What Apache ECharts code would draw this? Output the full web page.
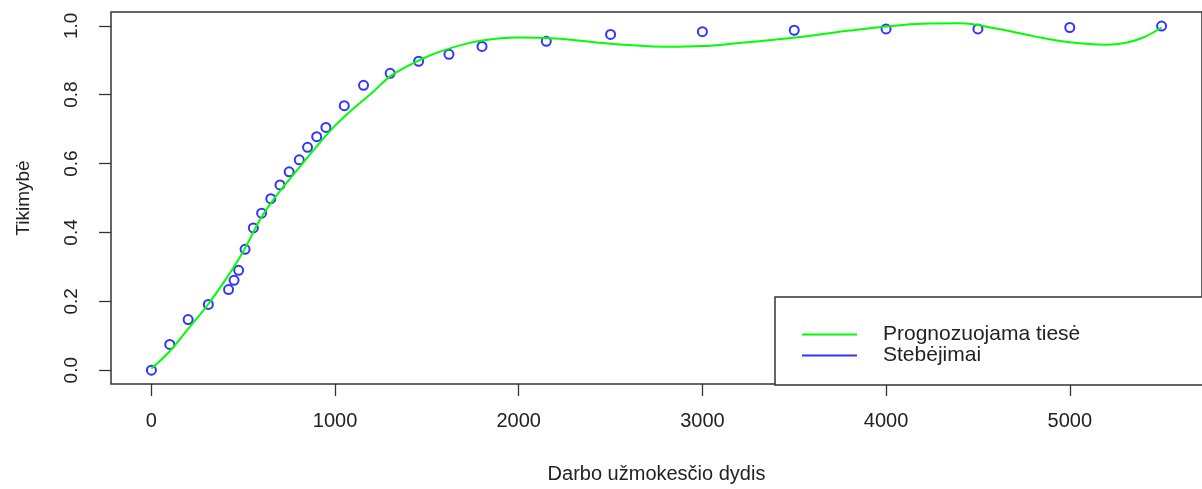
<!DOCTYPE html>
<html>
<head>
<meta charset="utf-8">
<script src="https://cdn.jsdelivr.net/npm/echarts@6/dist/echarts.min.js"></script>
<style>
html,body{margin:0;padding:0;background:#fff;}
#chart{width:1202px;height:489px;}
</style>
</head>
<body>
<div id="chart"></div>
<script>
// Observations (Stebėjimai)
const obsX = [0, 100, 200, 310, 420, 450, 475, 510, 555, 600, 650, 700, 750, 805, 850, 900, 950, 1050, 1155, 1300, 1455, 1620, 1800, 2150, 2500, 3000, 3500, 4000, 4500, 5000, 5500];
const obsY = [0.0, 0.075, 0.147, 0.191, 0.234, 0.261, 0.290, 0.351, 0.413, 0.456, 0.498, 0.538, 0.576, 0.611, 0.647, 0.678, 0.705, 0.768, 0.827, 0.862, 0.897, 0.917, 0.940, 0.955, 0.975, 0.983, 0.987, 0.991, 0.991, 0.995, 0.999];
// Fitted curve (Prognozuojama tiesė)
const fitX = [0, 100, 200, 300, 400, 500, 600, 700, 800, 900, 1000, 1100, 1200, 1300, 1400, 1500, 1600, 1700, 1800, 1900, 2000, 2200, 2400, 2600, 2800, 3000, 3200, 3400, 3600, 3800, 4000, 4200, 4400, 4600, 4800, 5000, 5200, 5300, 5400, 5500];
const fitY = [0.005, 0.055, 0.12, 0.185, 0.26, 0.345, 0.445, 0.52, 0.585, 0.65, 0.71, 0.76, 0.805, 0.853, 0.884, 0.91, 0.93, 0.946, 0.957, 0.964, 0.966, 0.963, 0.953, 0.944, 0.939, 0.941, 0.950, 0.960, 0.972, 0.986, 0.998, 1.006, 1.007, 0.992, 0.970, 0.952, 0.945, 0.950, 0.966, 0.995];
const xTicks = [0, 1000, 2000, 3000, 4000, 5000];
const yTicks = [0, 0.2, 0.4, 0.6, 0.8, 1.0];
const xTitle = 'Darbo užmokesčio dydis';
const yTitle = 'Tikimybė';
const fitName = 'Prognozuojama tiesė';
const obsName = 'Stebėjimai';

const FONT = '"Liberation Sans", Arial, sans-serif';
const TXT = '#222';
const chart = echarts.init(document.getElementById('chart'), null, {renderer: 'canvas'});
chart.setOption({
  animation: false,
  backgroundColor: '#fff',
  textStyle: {fontFamily: FONT},
  grid: {left: 111, top: 12, width: 1092, height: 373, show: true, borderColor: '#333', borderWidth: 1.5, backgroundColor: 'transparent'},
  xAxis: {
    type: 'value', min: -220, max: 5720,
    splitLine: {show: false},
    axisLine: {show: false, onZero: false},
    axisTick: {show: true, inside: false, length: 12, customValues: xTicks, lineStyle: {color: '#333', width: 1.3}},
    axisLabel: {customValues: xTicks, margin: 27, fontSize: 20, color: TXT, fontFamily: FONT, formatter: v => String(v)},
    name: xTitle, nameLocation: 'middle', nameGap: 80,
    nameTextStyle: {fontSize: 20, color: TXT, fontFamily: FONT}
  },
  yAxis: {
    type: 'value', min: -0.04, max: 1.04,
    splitLine: {show: false},
    axisLine: {show: false, onZero: false},
    axisTick: {show: true, inside: false, length: 12, customValues: yTicks, lineStyle: {color: '#333', width: 1.3}},
    axisLabel: {customValues: yTicks, rotate: 90, margin: 30, fontSize: 19, color: TXT, fontFamily: FONT, formatter: v => v.toFixed(1)},
    name: yTitle, nameLocation: 'middle', nameGap: 78, nameRotate: 90,
    nameTextStyle: {fontSize: 19, color: TXT, fontFamily: FONT}
  },
  legend: {
    orient: 'vertical', left: 775, top: 297,
    padding: [27, 400, 19, 27],
    itemGap: 0, itemWidth: 55, itemHeight: 2,
    borderColor: '#333', borderWidth: 1.5, backgroundColor: '#fff',
    textStyle: {fontSize: 21, color: TXT, fontFamily: FONT, lineHeight: 21, padding: [0, 0, 0, 21]},
    data: [
      {name: fitName, icon: 'rect', itemStyle: {color: '#00ff00', borderWidth: 0}},
      {name: obsName, icon: 'rect', itemStyle: {color: '#0000ff', borderWidth: 0}}
    ],
    selectedMode: false
  },
  series: [
    {
      name: obsName, type: 'scatter', symbol: 'emptyCircle', symbolSize: 9,
      itemStyle: {color: '#0000ff', borderColor: '#0000ff', borderWidth: 1.3},
      data: obsX.map((x, i) => [x, obsY[i]]), z: 2
    },
    {
      name: fitName, type: 'line', smooth: 0.4, showSymbol: false, symbol: 'none',
      lineStyle: {color: '#00ff00', width: 2}, itemStyle: {color: '#00ff00'},
      data: fitX.map((x, i) => [x, fitY[i]]), z: 3
    }
  ]
});
</script>
</body>
</html>
